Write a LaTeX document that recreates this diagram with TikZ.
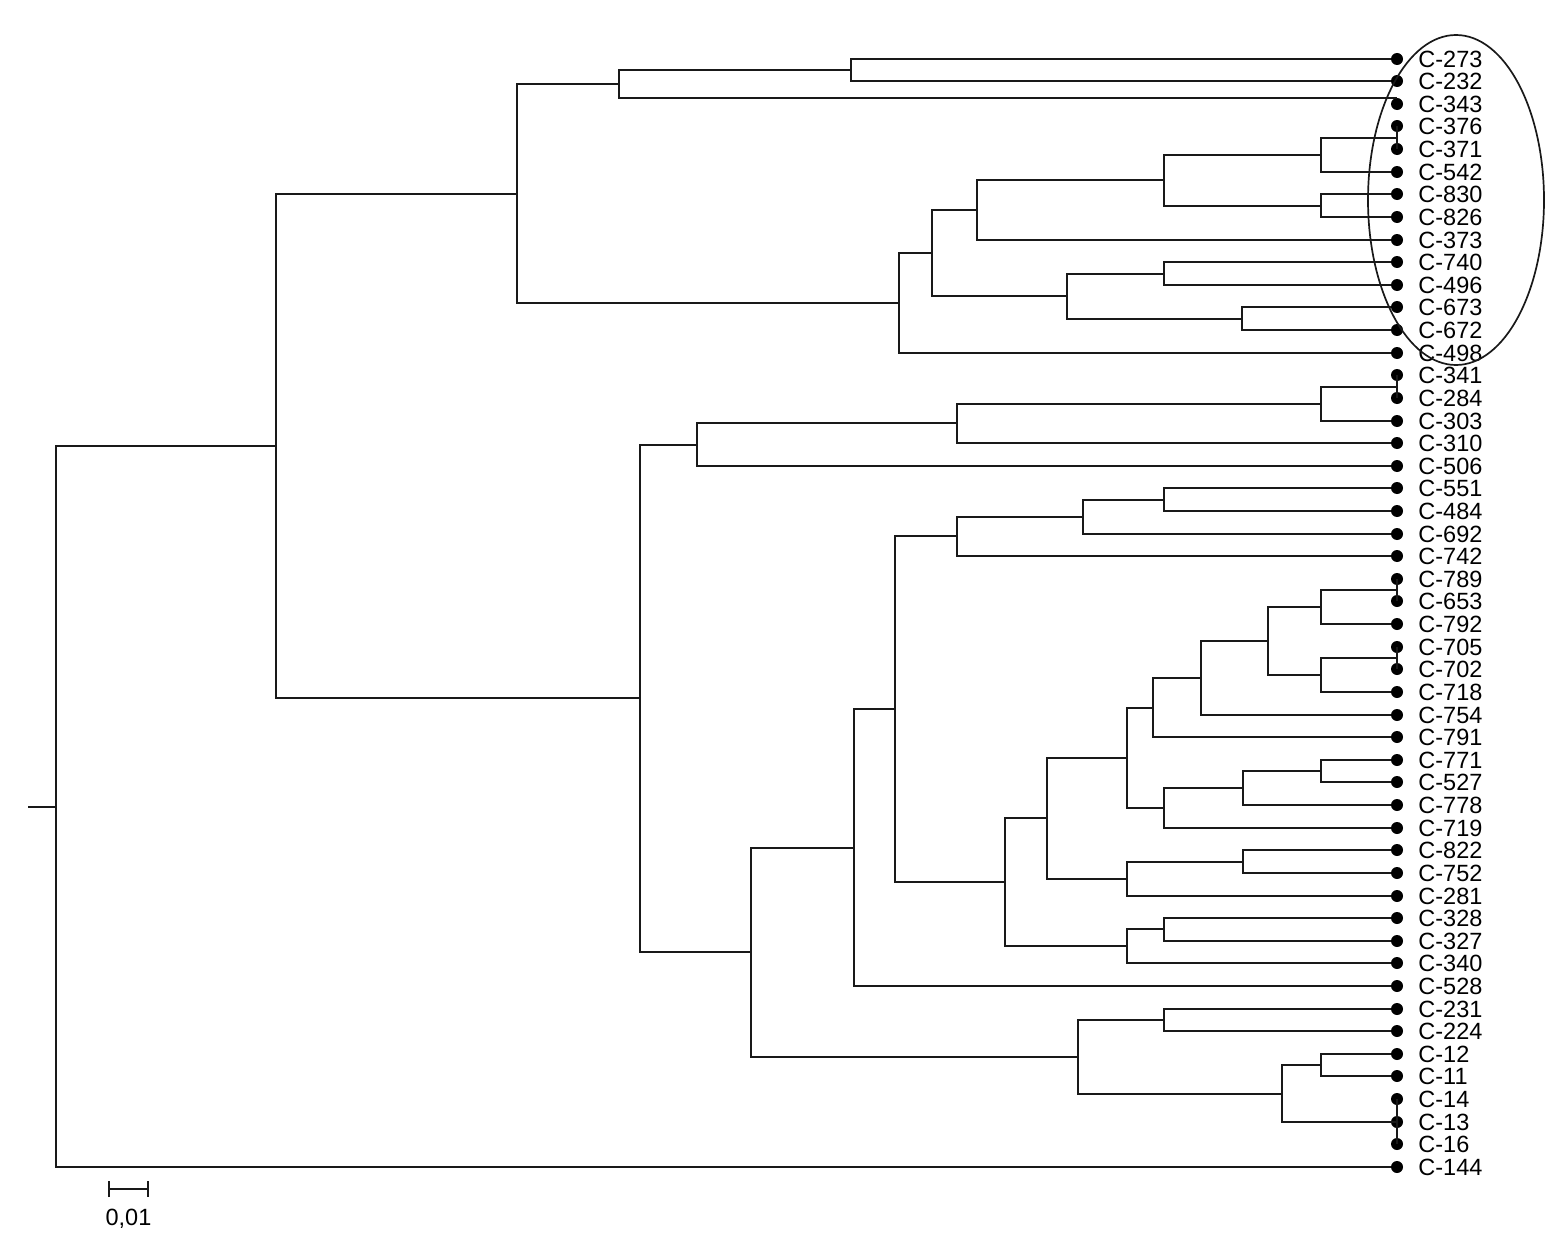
\documentclass[tikz,border=0pt]{standalone}
\usepackage{fontspec}
\setmainfont{Liberation Sans}
\usetikzlibrary{arrows.meta}
\usetikzlibrary{positioning}
\tikzset{
  LeafDot/.style={
    circle, fill=black, inner sep=0pt, minimum size=12pt,
  },
  LeafText/.style={inner sep=0pt, font=\fontsize{23.5}{28}\selectfont},
  Branch/.style={line width=2pt, draw=black!90},
}

\begin{document}
\begin{tikzpicture}[x=1pt, y=-1pt]
\useasboundingbox (0,0) rectangle (1564,1255);
\foreach \n [count=\i] in {273,232,343,376,371,542,830,826,373,740,496,673,672,498,341,284,303,310,506,551,484,692,742,789,653,792,705,702,718,754,791,771,527,778,719,822,752,281,328,327,340,528,231,224,12,11,14,13,16,144}
{
  \node[LeafDot] (c\n) at (1397,{round(58.6+22.62*(\i-1))}) {};
  \node[LeafText, right=15pt of c\n] (t\n) {C-\n};
}
\coordinate (p851) at (851,70);
\coordinate (p619) at (619,84);
\coordinate (p376) at (1397,138);
\coordinate (p542) at (1321,155);
\coordinate (p830) at (1321,206);
\coordinate (p1164) at (1164,180);
\coordinate (p373) at (977,210);
\coordinate (p740) at (1164,274);
\coordinate (p673) at (1242,319);
\coordinate (p1067) at (1067,296);
\coordinate (p932) at (932,253);
\coordinate (p498) at (899,303);
\coordinate (p517) at (517,194);
\coordinate (p341) at (1397,387);
\coordinate (p303) at (1321,404);
\coordinate (p310) at (957,423);
\coordinate (p506) at (697,445);
\coordinate (p551) at (1164,500);
\coordinate (p692) at (1083,517);
\coordinate (p742) at (957,536);
\coordinate (p789) at (1397,590);
\coordinate (p792) at (1321,607);
\coordinate (p705) at (1397,658);
\coordinate (p718) at (1321,675);
\coordinate (p1268) at (1268,641);
\coordinate (p754) at (1201,678);
\coordinate (p791) at (1153,708);
\coordinate (p771) at (1321,771);
\coordinate (p778) at (1243,788);
\coordinate (p719) at (1164,808);
\coordinate (p1127) at (1127,758);
\coordinate (p822) at (1243,862);
\coordinate (p281) at (1127,879);
\coordinate (p1047) at (1047,818);
\coordinate (p328) at (1164,929);
\coordinate (p340) at (1127,946);
\coordinate (p1005) at (1005,882);
\coordinate (p895) at (895,709);
\coordinate (p528) at (854,848);
\coordinate (p231) at (1164,1020);
\coordinate (p12) at (1321,1065);
\coordinate (p14) at (1397,1122);
\coordinate (p1282) at (1282,1094);
\coordinate (p1078) at (1078,1057);
\coordinate (p751) at (751,952);
\coordinate (p640) at (640,698);
\coordinate (p276) at (276,446);
\coordinate (root) at (56,807);
\coordinate (stem) at (28,807);
% upper group
\draw[Branch] (p851) |- (c273) (p851) |- (c232);
\draw[Branch] (p619) |- (p851) (p619) |- (c343.north);
\draw[Branch] (p376) |- (c376) (p376) |- (c371);
\draw[Branch] (p542) |- (p376) (p542) |- (c542);
\draw[Branch] (p830) |- (c830) (p830) |- (c826);
\draw[Branch] (p1164) |- (p542) (p1164) |- (p830);
\draw[Branch] (p373) |- (p1164) (p373) |- (c373);
\draw[Branch] (p740) |- (c740) (p740) |- (c496);
\draw[Branch] (p673) |- (c673) (p673) |- (c672);
\draw[Branch] (p1067) |- (p740) (p1067) |- (p673);
\draw[Branch] (p932) |- (p373) (p932) |- (p1067);
\draw[Branch] (p498) |- (p932) (p498) |- (c498);
\draw[Branch] (p517) |- (p619) (p517) |- (p498);
% lower group
\draw[Branch] (p341) |- (c341) (p341) |- (c284);
\draw[Branch] (p303) |- (p341) (p303) |- (c303);
\draw[Branch] (p310) |- (p303) (p310) |- (c310);
\draw[Branch] (p506) |- (p310) (p506) |- (c506);
\draw[Branch] (p551) |- (c551) (p551) |- (c484);
\draw[Branch] (p692) |- (p551) (p692) |- (c692);
\draw[Branch] (p742) |- (p692) (p742) |- (c742);
\draw[Branch] (p789) |- (c789) (p789) |- (c653);
\draw[Branch] (p792) |- (p789) (p792) |- (c792);
\draw[Branch] (p705) |- (c705) (p705) |- (c702);
\draw[Branch] (p718) |- (p705) (p718) |- (c718);
\draw[Branch] (p1268) |- (p792) (p1268) |- (p718);
\draw[Branch] (p754) |- (p1268) (p754) |- (c754);
\draw[Branch] (p791) |- (p754) (p791) |- (c791);
\draw[Branch] (p771) |- (c771) (p771) |- (c527);
\draw[Branch] (p778) |- (p771) (p778) |- (c778);
\draw[Branch] (p719) |- (p778) (p719) |- (c719);
\draw[Branch] (p1127) |- (p791) (p1127) |- (p719);
\draw[Branch] (p822) |- (c822) (p822) |- (c752);
\draw[Branch] (p281) |- (p822) (p281) |- (c281);
\draw[Branch] (p1047) |- (p1127) (p1047) |- (p281);
\draw[Branch] (p328) |- (c328) (p328) |- (c327);
\draw[Branch] (p340) |- (p328) (p340) |- (c340);
\draw[Branch] (p1005) |- (p1047) (p1005) |- (p340);
\draw[Branch] (p895) |- (p742) (p895) |- (p1005);
\draw[Branch] (p528) |- (p895) (p528) |- (c528);
\draw[Branch] (p231) |- (c231) (p231) |- (c224);
\draw[Branch] (p12) |- (c12) (p12) |- (c11);
\draw[Branch] (p14) |- (c14) (p14) |- (c16);
\draw[Branch] (p1282) |- (p12) (p1282) |- (p14);
\draw[Branch] (p1078) |- (p231) (p1078) |- (p1282);
\draw[Branch] (p751) |- (p528) (p751) |- (p1078);
\draw[Branch] (p640) |- (p506) (p640) |- (p751);
% root
\draw[Branch] (p276) |- (p517) (p276) |- (p640);
\draw[Branch] (root) |- (p276) (root) |- (c144);
\draw[Branch] (stem) -- (root);
% circled group
\draw[line width=1.7pt, black!90] (1456,200) ellipse [x radius=88pt, y radius=165pt];
% scale
\coordinate (sbl) at (108,1189);
\coordinate (sbr) at (149,1189);
\coordinate (sbm) at (128.5,1189);
\draw[Branch, {Bar[width=16pt]}-{Bar[width=16pt]}] (sbl) -- (sbr);
\node[LeafText, below=20pt of sbm] (sblab) {0,01};
\end{tikzpicture}
\end{document}
